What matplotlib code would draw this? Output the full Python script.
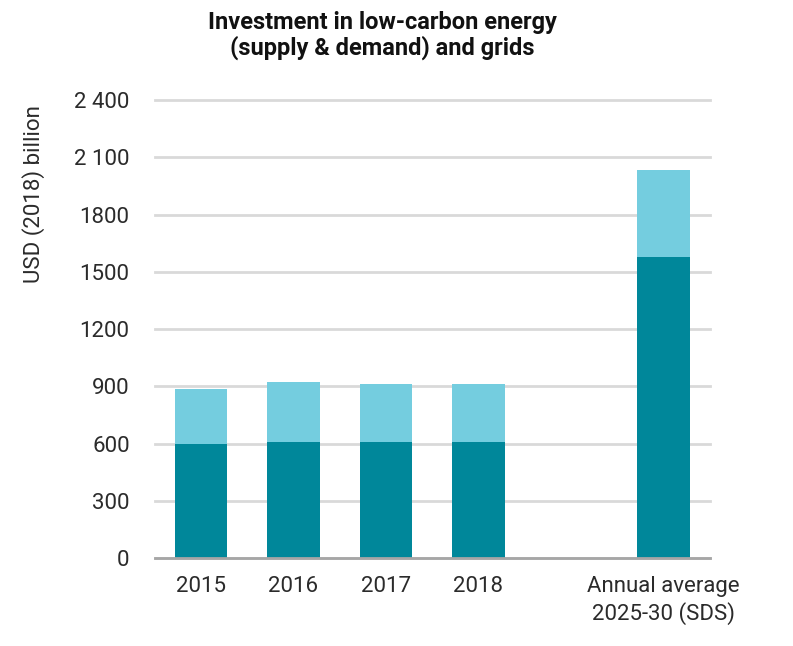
import numpy as np
import matplotlib
matplotlib.use("Agg")
import matplotlib.pyplot as plt

# data (USD 2018 billion)
categories = ["2015", "2016", "2017", "2018", "Annual average\n2025-30 (SDS)"]
positions = [0, 1, 2, 3, 5]
lower = [597, 611, 611, 611, 1578]
total = [885, 921, 910, 910, 2036]
upper = [t - l for t, l in zip(total, lower)]
yticks = [0, 300, 600, 900, 1200, 1500, 1800, 2100, 2400]
ytick_labels = ["0", "300", "600", "900", "1200", "1500", "1800", "2 100", "2 400"]

dark = "#00879A"
light = "#74CDDF"
txt = "#2B2B2B"

plt.rcParams["font.family"] = ["Roboto", "DejaVu Sans"]

fig = plt.figure(figsize=(7.93, 6.46), dpi=100)
ax = fig.add_axes([0.195, 0.136, 0.7, 0.709])

ax.bar(positions, lower, width=0.57, color=dark, zorder=3)
ax.bar(positions, upper, bottom=lower, width=0.57, color=light, zorder=3)

ax.set_xlim(-0.5, 5.5)
ax.set_ylim(0, 2400)
ax.set_yticks(yticks)
ax.set_yticklabels(ytick_labels, fontsize=16, color=txt)
ax.set_xticks(positions)
ax.set_xticklabels(categories, fontsize=16, color=txt, linespacing=1.25)
ax.tick_params(axis="both", length=0)
ax.tick_params(axis="y", pad=18)
ax.tick_params(axis="x", pad=13)

ax.grid(axis="y", color="#D9D9D9", linewidth=2, zorder=0)
for g in ax.get_ygridlines():
    g.set_clip_on(False)
for s in ["top", "right", "left"]:
    ax.spines[s].set_visible(False)
ax.spines["bottom"].set_color("#A6A6A6")
ax.spines["bottom"].set_linewidth(2)
ax.spines["bottom"].set_zorder(4)

fig.text(0.482, 0.945, "Investment in low-carbon energy\n(supply & demand) and grids",
         ha="center", va="center", fontsize=17, fontweight="bold",
         linespacing=1.05, color="#111111")
fig.text(0.042, 0.70, "USD (2018) billion", rotation=90, ha="center", va="center",
         fontsize=16, color=txt)

fig.savefig("out.png", dpi=100)
